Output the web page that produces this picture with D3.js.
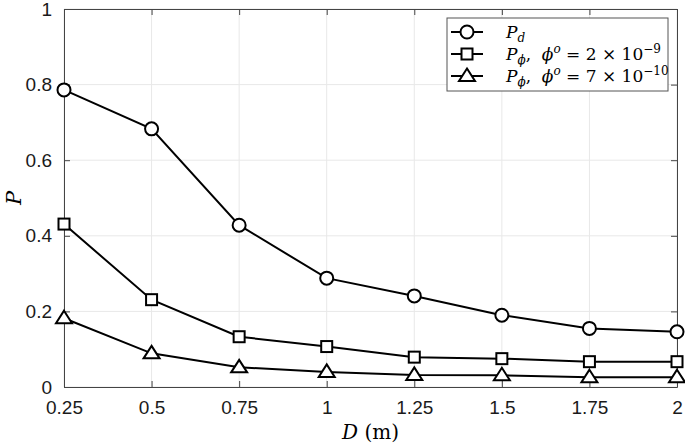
<!DOCTYPE html>
<html>
<head>
<meta charset="utf-8">
<script src="https://cdn.jsdelivr.net/npm/d3@7"></script>
<style>
  body { margin: 0; background: #fff; }
  .tick text { font-family: "Liberation Sans", Arial, sans-serif; font-size: 19px; fill: #1a1a1a; }
</style>
</head>
<body>
<div id="chart"></div>
<script>
var svgWidth = 685;
var svgHeight = 446;

var margin = { top: 9, right: 8, bottom: 59, left: 64 };
var width = svgWidth - margin.left - margin.right;
var height = svgHeight - margin.top - margin.bottom;

// data
var distances = [0.25, 0.5, 0.75, 1, 1.25, 1.5, 1.75, 2];
var pD = [0.786, 0.683, 0.428, 0.288, 0.241, 0.190, 0.155, 0.146];
var pPhi2e9 = [0.431, 0.231, 0.133, 0.107, 0.079, 0.075, 0.067, 0.067];
var pPhi7e10 = [0.182, 0.089, 0.052, 0.040, 0.032, 0.031, 0.026, 0.026];
var xTicks = [0.25, 0.5, 0.75, 1, 1.25, 1.5, 1.75, 2];
var yTicks = [0, 0.2, 0.4, 0.6, 0.8, 1];

var series = [
  { values: pD, marker: "circle" },
  { values: pPhi2e9, marker: "square" },
  { values: pPhi7e10, marker: "triangle" }
];

var svg = d3.select("#chart")
  .append("svg")
  .attr("width", svgWidth)
  .attr("height", svgHeight);

var chart = svg.append("g")
  .attr("transform", `translate(${margin.left}, ${margin.top})`);

var xScale = d3.scaleLinear().domain([0.25, 2]).range([0, width]);
var yScale = d3.scaleLinear().domain([0, 1]).range([height, 0]);

// grid
chart.append("g").selectAll("line")
  .data(xTicks)
  .enter().append("line")
  .attr("x1", d => xScale(d)).attr("x2", d => xScale(d))
  .attr("y1", 0).attr("y2", height)
  .attr("stroke", "#e8e8e8").attr("stroke-width", 1);

chart.append("g").selectAll("line")
  .data(yTicks)
  .enter().append("line")
  .attr("x1", 0).attr("x2", width)
  .attr("y1", d => yScale(d)).attr("y2", d => yScale(d))
  .attr("stroke", "#e8e8e8").attr("stroke-width", 1);

var fmt = d => d3.format("")(d);

// axes, ticks pointing inward
var bottomAxis = d3.axisBottom(xScale).tickValues(xTicks).tickSizeInner(-6).tickSizeOuter(0).tickPadding(14).tickFormat(fmt);
var leftAxis = d3.axisLeft(yScale).tickValues(yTicks).tickSizeInner(-6).tickSizeOuter(0).tickPadding(12).tickFormat(fmt);
var topAxis = d3.axisTop(xScale).tickValues(xTicks).tickSizeInner(-6).tickSizeOuter(0).tickFormat("");
var rightAxis = d3.axisRight(yScale).tickValues(yTicks).tickSizeInner(-6).tickSizeOuter(0).tickFormat("");

var axisColor = "#444";

function styleAxis(g) {
  g.select(".domain").attr("stroke", axisColor);
  g.selectAll(".tick line").attr("stroke", axisColor);
}

chart.append("g").attr("transform", `translate(0, ${height})`).call(bottomAxis).call(styleAxis);
chart.append("g").call(leftAxis).call(styleAxis);
chart.append("g").call(topAxis).call(styleAxis);
chart.append("g").attr("transform", `translate(${width}, 0)`).call(rightAxis).call(styleAxis);

// lines
var line = d3.line()
  .x((d, i) => xScale(distances[i]))
  .y(d => yScale(d));

function drawMarker(g, type, x, y) {
  if (type === "circle") {
    g.append("circle").attr("cx", x).attr("cy", y).attr("r", 6.5);
  } else if (type === "square") {
    g.append("rect").attr("x", x - 5.5).attr("y", y - 5.5).attr("width", 11).attr("height", 11);
  } else {
    g.append("path").attr("d", `M${x},${y - 7.5}L${x + 8},${y + 5}L${x - 8},${y + 5}Z`);
  }
}

series.forEach(function (s) {
  chart.append("path")
    .datum(s.values)
    .attr("d", line)
    .attr("fill", "none")
    .attr("stroke", "#000")
    .attr("stroke-width", 2);

  var mg = chart.append("g")
    .attr("fill", "#fff")
    .attr("stroke", "#000")
    .attr("stroke-width", 2);
  s.values.forEach(function (v, i) {
    drawMarker(mg, s.marker, xScale(distances[i]), yScale(v));
  });
});

// axis labels
svg.append("text")
  .attr("transform", `translate(21, ${margin.top + height / 2}) rotate(-90)`)
  .attr("text-anchor", "middle")
  .style("font-family", "'DejaVu Serif', serif")
  .style("font-style", "italic")
  .style("font-size", "21px")
  .text("P");

var xl = svg.append("text")
  .attr("x", margin.left + width / 2)
  .attr("y", 439)
  .attr("text-anchor", "middle")
  .style("font-family", "'DejaVu Serif', serif")
  .style("font-size", "20px");
xl.append("tspan").style("font-style", "italic").text("D");
xl.append("tspan").text(" (m)");

// legend
var legend = svg.append("g").attr("transform", "translate(447, 18)");
legend.append("rect")
  .attr("width", 221).attr("height", 73)
  .attr("fill", "#fff").attr("stroke", "#555").attr("stroke-width", 1);

var rows = [
  [{ t: "P", it: true }, { t: "d", it: true, sub: true }],
  [{ t: "P", it: true }, { t: "ϕ", it: true, sub: true }, { t: ",  " }, { t: "ϕ", it: true }, { t: "o", it: true, sup: true }, { t: " = 2 × 10" }, { t: "−9", sup: true }],
  [{ t: "P", it: true }, { t: "ϕ", it: true, sub: true }, { t: ",  " }, { t: "ϕ", it: true }, { t: "o", it: true, sup: true }, { t: " = 7 × 10" }, { t: "−10", sup: true }]
];

rows.forEach(function (parts, i) {
  var y = 14 + i * 22;
  var g = legend.append("g");
  g.append("line")
    .attr("x1", 4).attr("x2", 36).attr("y1", y).attr("y2", y)
    .attr("stroke", "#000").attr("stroke-width", 2);
  var mg = g.append("g").attr("fill", "#fff").attr("stroke", "#000").attr("stroke-width", 2);
  drawMarker(mg, series[i].marker, 20, y);

  var txt = g.append("text")
    .attr("x", 59).attr("y", y + 6)
    .style("font-family", "'DejaVu Serif', serif")
    .style("font-size", "17px");
  var shift = 0;
  parts.forEach(function (p) {
    var dy = 0;
    var target = p.sub ? 4 : (p.sup ? -7 : 0);
    dy = target - shift;
    shift = target;
    txt.append("tspan")
      .attr("dy", dy)
      .style("font-style", p.it ? "italic" : "normal")
      .style("font-size", (p.sub || p.sup) ? "12px" : "17px")
      .attr("xml:space", "preserve")
      .text(p.t);
  });
});
</script>
</body>
</html>
